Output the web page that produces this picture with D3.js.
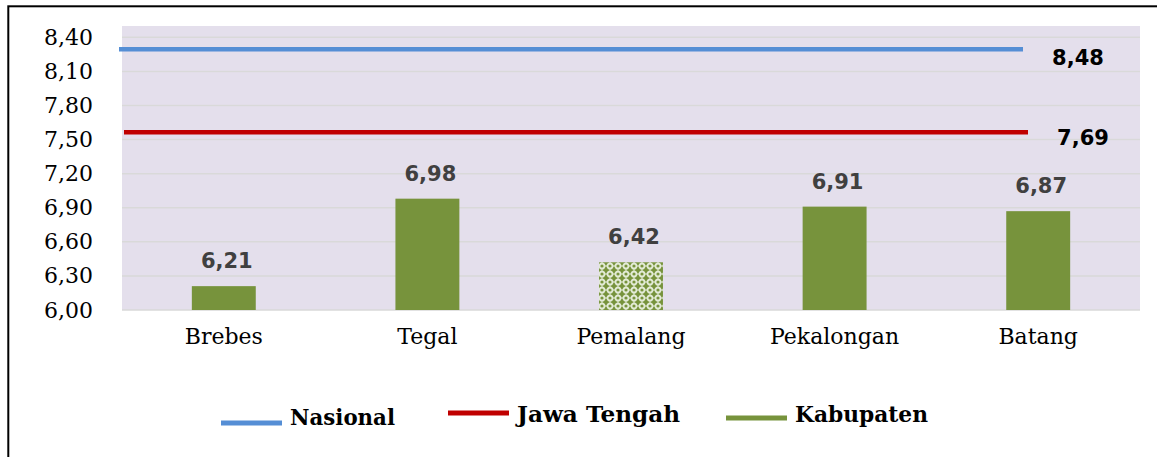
<!DOCTYPE html>
<html>
<head>
<meta charset="utf-8">
<script src="https://cdn.jsdelivr.net/npm/d3@7"></script>
<style>
  body{margin:0;background:#fff}
  svg{display:block}
</style>
</head>
<body>
<svg id="chart"></svg>
<script>
const width = 1157
const height = 457
const margin = {top:26, right:17, bottom:147, left:122}
const innerWidth = width - margin.left - margin.right
const innerHeight = height - margin.top - margin.bottom

// data
const categories = ['Brebes','Tegal','Pemalang','Pekalongan','Batang']
const kabupaten = [6.21, 6.98, 6.42, 6.91, 6.87]
const patterned = ['Pemalang']
const lineNames = ['Nasional','Jawa Tengah']
const lineValues = [8.48, 7.69]
const lineColors = ['#558ED5','#C00000']
const yTicks = [6.00, 6.30, 6.60, 6.90, 7.20, 7.50, 7.80, 8.10, 8.40]
const legendNames = ['Nasional','Jawa Tengah','Kabupaten']
const barColor = '#77933C'

const fmt = d => d3.format('.2f')(d).replace('.', ',')

const svg = d3.select('#chart')
  .attr('width', width)
  .attr('height', height)

// frame
svg.append('rect')
  .attr('x', 8.3).attr('y', 6.3)
  .attr('width', width + 10).attr('height', height + 10)
  .attr('fill', 'none').attr('stroke', '#000').attr('stroke-width', 2)

// pattern for Pemalang bar
const defs = svg.append('defs')
const pat = defs.append('pattern')
  .attr('id', 'lattice')
  .attr('patternUnits', 'userSpaceOnUse')
  .attr('width', 8).attr('height', 8)
pat.append('rect').attr('width', 8).attr('height', 8).attr('fill', '#e3ebd6')
// green four-point star in the middle of each tile
pat.append('path')
  .attr('d', 'M4,0 Q5,3 8,4 Q5,5 4,8 Q3,5 0,4 Q3,3 4,0 Z')
  .attr('fill', barColor)
;[[0,0],[8,0],[0,8],[8,8]].forEach(([cx,cy]) => {
  pat.append('circle').attr('cx', cx).attr('cy', cy).attr('r', 1.6).attr('fill', barColor)
})

const g = svg.append('g')
  .attr('transform', `translate(${margin.left},${margin.top})`)

// scales
const x = d3.scaleBand()
  .domain(categories)
  .range([0, innerWidth])
  .paddingInner(0.686)
  .paddingOuter(0.343)

const y = d3.scaleLinear()
  .domain([6.0, 8.5])
  .range([innerHeight, 0])

// lines sit on a hidden secondary axis
const y2 = d3.scaleLinear()
  .domain([6.0, 8.7])
  .range([innerHeight, 0])

// plot background
g.append('rect')
  .attr('width', innerWidth).attr('height', innerHeight)
  .attr('fill', '#E4DFEC')

// gridlines
g.append('g').selectAll('line')
  .data(yTicks)
  .enter().append('line')
  .attr('x1', 0).attr('x2', innerWidth)
  .attr('y1', d => y(d)).attr('y2', d => y(d))
  .attr('stroke', '#D9D9D9').attr('stroke-width', 1.5)

// y axis
const yAxis = d3.axisLeft(y)
  .tickValues(yTicks)
  .tickSize(0)
  .tickPadding(29)
  .tickFormat(fmt)
const ya = g.append('g').call(yAxis)
ya.select('.domain').remove()
ya.selectAll('text')
  .attr('font-family', '"DejaVu Serif", serif')
  .attr('font-size', 22)
  .attr('fill', '#000')

// category labels
g.append('g').selectAll('text')
  .data(categories)
  .enter().append('text')
  .attr('x', d => x(d) + x.bandwidth() / 2)
  .attr('y', innerHeight + 34)
  .attr('text-anchor', 'middle')
  .attr('font-family', '"DejaVu Serif", serif')
  .attr('font-size', 22)
  .attr('fill', '#000')
  .text(d => d)

// bars
const bars = categories.map((c, i) => ({cat: c, value: kabupaten[i]}))
g.append('g').selectAll('rect')
  .data(bars)
  .enter().append('rect')
  .attr('x', d => x(d.cat))
  .attr('y', d => y(d.value))
  .attr('width', x.bandwidth())
  .attr('height', d => innerHeight - y(d.value))
  .attr('fill', d => patterned.includes(d.cat) ? 'url(#lattice)' : barColor)

g.append('g').selectAll('text')
  .data(bars)
  .enter().append('text')
  .attr('x', d => x(d.cat) + x.bandwidth() / 2 + 3)
  .attr('y', d => y(d.value) - 18)
  .attr('text-anchor', 'middle')
  .attr('font-family', '"DejaVu Sans", Verdana, sans-serif')
  .attr('font-weight', 'bold')
  .attr('font-size', 21)
  .attr('fill', '#404040')
  .text(d => fmt(d.value))

// reference lines
const lineStart = [-3, 2]
const lineEnd = [901, 906]
lineValues.forEach((v, i) => {
  g.append('line')
    .attr('x1', lineStart[i]).attr('x2', lineEnd[i])
    .attr('y1', y2(v)).attr('y2', y2(v))
    .attr('stroke', lineColors[i]).attr('stroke-width', 4.5)
  g.append('text')
    .attr('x', lineEnd[i] + 55)
    .attr('y', y2(v) + (i === 0 ? 16 : 13))
    .attr('text-anchor', 'middle')
    .attr('font-family', '"DejaVu Sans", Verdana, sans-serif')
    .attr('font-weight', 'bold')
    .attr('font-size', 21)
    .attr('fill', '#000')
    .text(fmt(v))
})

// legend
const legendColors = [lineColors[0], lineColors[1], barColor]
const legendLineX = [221, 448, 726]
const legendLineY = [423, 413, 418]
const legendTextY = [425, 422, 421.5]
const legendTextW = [105, 163, 133]
const legend = svg.append('g')
legendNames.forEach((n, i) => {
  legend.append('line')
    .attr('x1', legendLineX[i]).attr('x2', legendLineX[i] + 61)
    .attr('y1', legendLineY[i]).attr('y2', legendLineY[i])
    .attr('stroke', legendColors[i]).attr('stroke-width', 5)
  legend.append('text')
    .attr('x', legendLineX[i] + 69)
    .attr('y', legendTextY[i])
    .attr('font-family', '"DejaVu Serif", serif')
    .attr('font-weight', 'bold')
    .attr('font-size', 23)
    .attr('textLength', legendTextW[i])
    .attr('lengthAdjust', 'spacingAndGlyphs')
    .attr('fill', '#000')
    .text(n)
})
</script>
</body>
</html>
